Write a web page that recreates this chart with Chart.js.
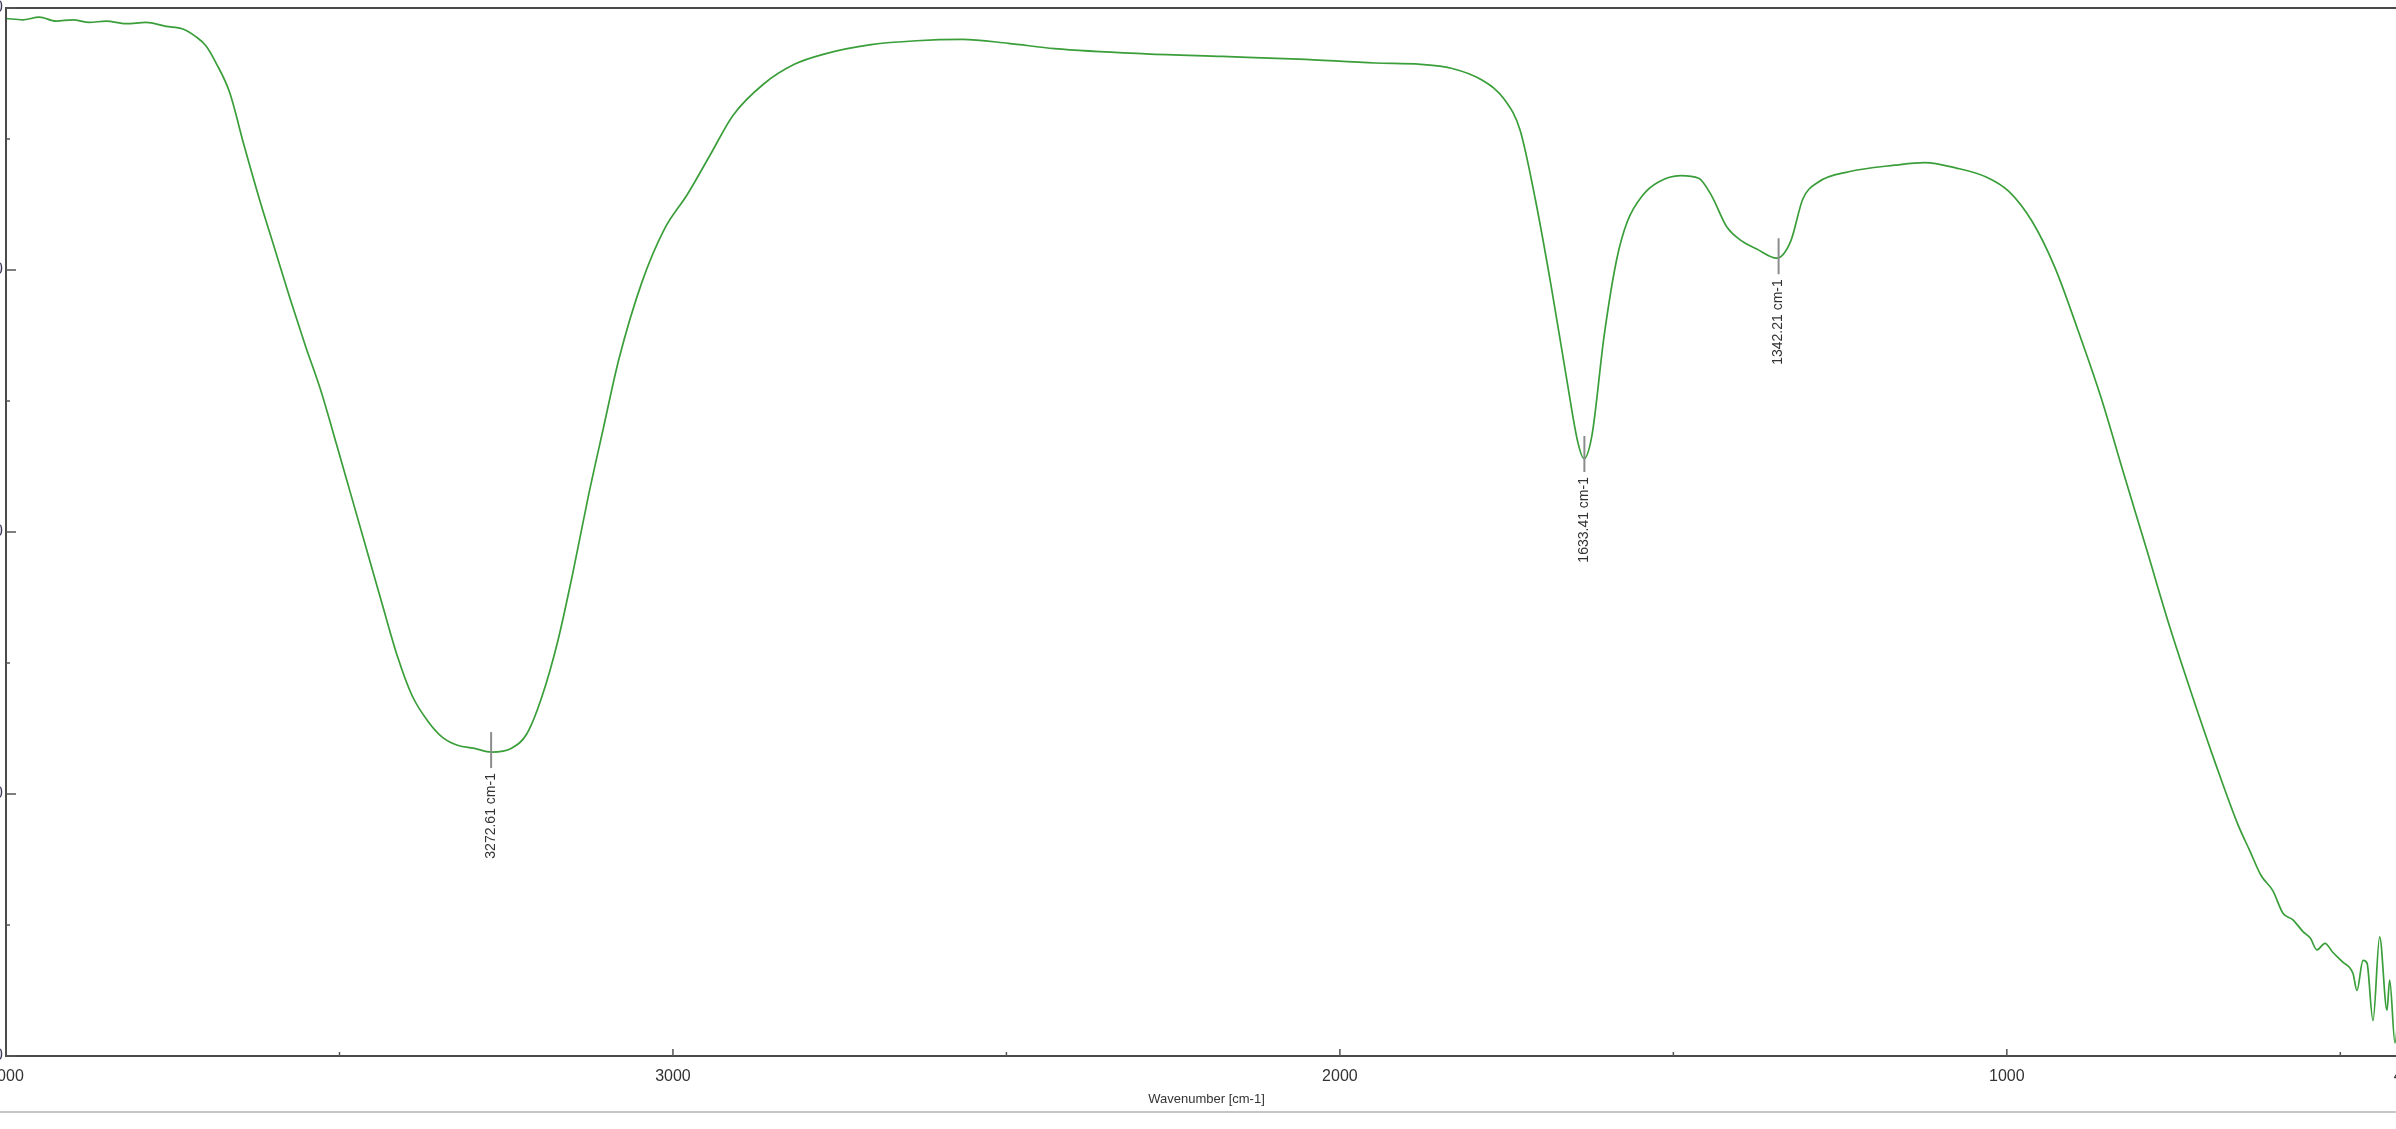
<!DOCTYPE html>
<html>
<head>
<meta charset="utf-8">
<title>IR spectrum</title>
<script src="https://cdn.jsdelivr.net/npm/chart.js@4.4.1/dist/chart.umd.min.js"></script>
<style>
  html, body { margin: 0; padding: 0; background: #fff; overflow: hidden; }
  body { width: 2396px; height: 1129px; position: relative; }
  #spectrum-wrap { position: absolute; left: -44px; top: 0; width: 2500px; height: 1129px; }
</style>
</head>
<body>
<div id="spectrum-wrap"><canvas id="spectrum-chart" width="2500" height="1129"></canvas></div>
<script>
// values (wavenumber in cm-1, transmittance in %)
var wavenumbers = [
  4000, 3975, 3950, 3925, 3900, 3875, 3850, 3820, 3790, 3760, 3735, 3715, 3700, 3685, 3665,
  3643, 3620, 3597, 3574, 3551, 3528, 3505, 3482, 3459, 3436, 3413, 3391, 3368, 3345, 3322,
  3299, 3272, 3242, 3219, 3196, 3173, 3150, 3127, 3104, 3081, 3047, 3013, 2978, 2944, 2910,
  2864, 2818, 2772, 2703, 2635, 2566, 2497, 2428, 2291, 2176, 2062, 1947, 1879, 1833, 1787,
  1753, 1730, 1707, 1684, 1661, 1643, 1634, 1622, 1604, 1585, 1569, 1546, 1523, 1489, 1462,
  1443, 1420, 1397, 1375, 1345, 1324, 1306, 1283, 1237, 1168, 1123, 1077, 1031, 997, 962,
  928, 894, 859, 825, 790, 756, 722, 687, 653, 636, 619, 601, 586, 571, 556,
  545, 535, 523, 511, 497, 481, 475, 466, 460, 451, 441, 430, 426, 418, 410,
  400
];
var transmittance = [
  99.2, 99.1, 99.3, 99.0, 99.1, 98.9, 99.0, 98.8, 98.9, 98.6, 98.4, 97.8, 97.1, 95.8, 93.6,
  89.5, 85.4, 81.6, 77.8, 74.2, 70.8, 66.8, 62.7, 58.6, 54.5, 50.5, 47.5, 45.6, 44.3, 43.7,
  43.5, 43.2, 43.5, 44.6, 47.5, 51.6, 56.9, 62.7, 68.0, 73.2, 79.0, 83.1, 85.8, 88.8, 91.8,
  94.2, 95.7, 96.5, 97.2, 97.5, 97.6, 97.3, 96.9, 96.5, 96.3, 96.1, 95.8, 95.7, 95.4, 94.5,
  93.0, 90.7, 85.4, 79.0, 72.0, 66.8, 65.6, 67.4, 74.9, 80.8, 83.7, 85.7, 86.7, 87.2, 87.0,
  85.7, 83.3, 82.2, 81.6, 80.9, 82.2, 85.4, 86.7, 87.5, 88.0, 88.2, 87.8, 87.1, 86.0, 83.7,
  80.2, 75.5, 70.3, 64.5, 58.6, 52.8, 47.5, 42.3, 37.6, 35.7, 33.8, 32.6, 30.9, 30.4, 29.5,
  29.0, 28.1, 28.6, 27.9, 27.2, 26.3, 25.0, 27.3, 27.1, 22.7, 29.1, 23.5, 25.8, 21.0, 24.5,
  22.0
];
var xTickValues = [4000, 3000, 2000, 1000, 400];
var xMinorTicks = [3500, 2500, 1500, 500];
var yMinorTicks = [30, 50, 70, 90];
var peakWavenumbers = [3272.61, 1633.41, 1342.21];
var peakTransmittance = [43.2, 65.8, 80.9];
var peakLabels = ['3272.61 cm-1', '1633.41 cm-1', '1342.21 cm-1'];
var xAxisTitle = 'Wavenumber [cm-1]';

(function (window, document) {
  'use strict';

  var FONT = '"Liberation Sans", Arial, sans-serif';

  function buildPoints() {
    return wavenumbers.map(function (w, i) {
      return { x: w, y: transmittance[i] };
    });
  }

  // frame, inward tick marks, peak markers and the axis caption
  var spectrumDecor = {
    id: 'spectrumDecor',
    afterDatasetsDraw: function (chart) {
      var ctx = chart.ctx;
      var area = chart.chartArea;
      var xs = chart.scales.x;
      var ys = chart.scales.y;
      ctx.save();

      ctx.strokeStyle = '#4a4a4a';
      ctx.lineWidth = 2;
      ctx.strokeRect(area.left, area.top, area.right - area.left, area.bottom - area.top);

      ctx.lineWidth = 1.5;
      ctx.strokeStyle = '#555';
      xs.ticks.forEach(function (t) {
        var px = xs.getPixelForValue(t.value);
        ctx.beginPath();
        ctx.moveTo(px, area.bottom);
        ctx.lineTo(px, area.bottom - 7);
        ctx.stroke();
      });
      xMinorTicks.forEach(function (v) {
        var px = xs.getPixelForValue(v);
        ctx.beginPath();
        ctx.moveTo(px, area.bottom);
        ctx.lineTo(px, area.bottom - 4);
        ctx.stroke();
      });
      ys.ticks.forEach(function (t) {
        var py = ys.getPixelForValue(t.value);
        ctx.beginPath();
        ctx.moveTo(area.left, py);
        ctx.lineTo(area.left + 10, py);
        ctx.stroke();
      });
      yMinorTicks.forEach(function (v) {
        var py = ys.getPixelForValue(v);
        ctx.beginPath();
        ctx.moveTo(area.left, py);
        ctx.lineTo(area.left + 4, py);
        ctx.stroke();
      });

      // peak picks
      ctx.font = '14px ' + FONT;
      ctx.textAlign = 'right';
      ctx.textBaseline = 'middle';
      peakWavenumbers.forEach(function (w, i) {
        var px = xs.getPixelForValue(w);
        var py = ys.getPixelForValue(peakTransmittance[i]);
        ctx.strokeStyle = '#8c8c8c';
        ctx.lineWidth = 2;
        ctx.beginPath();
        ctx.moveTo(px, py - 20);
        ctx.lineTo(px, py + 16);
        ctx.stroke();
        ctx.save();
        ctx.translate(px, py + 21);
        ctx.rotate(-Math.PI / 2);
        ctx.fillStyle = '#333';
        ctx.fillText(peakLabels[i], 0, 0);
        ctx.restore();
      });

      ctx.fillStyle = '#333';
      ctx.textAlign = 'center';
      ctx.font = '13px ' + FONT;
      ctx.fillText(xAxisTitle, (area.left + area.right) / 2, 1099);

      ctx.fillStyle = '#c6c6c6';
      ctx.fillRect(0, 1111, chart.width, 2);
      ctx.restore();
    }
  };

  function render() {
    var canvas = document.getElementById('spectrum-chart');
    if (!canvas || typeof Chart === 'undefined') return;

    new Chart(canvas.getContext('2d'), {
      type: 'line',
      data: {
        datasets: [{
          label: 'Spectrum',
          data: buildPoints(),
          borderColor: '#3a9e3a',
          borderWidth: 1.7,
          pointRadius: 0,
          cubicInterpolationMode: 'monotone',
          fill: false
        }]
      },
      options: {
        responsive: false,
        animation: false,
        devicePixelRatio: 1,
        layout: { padding: { left: 0, right: 49, top: 8, bottom: 13 } },
        plugins: { legend: { display: false }, tooltip: { enabled: false } },
        scales: {
          x: {
            type: 'linear',
            reverse: true,
            min: 400,
            max: 4000,
            grid: { display: false, drawTicks: false },
            border: { display: false },
            afterBuildTicks: function (scale) {
              scale.ticks = xTickValues.map(function (v) { return { value: v }; });
            },
            ticks: {
              autoSkip: false,
              maxRotation: 0,
              padding: 11,
              color: '#333',
              font: { family: FONT, size: 16 },
              callback: function (value) { return String(value); }
            },
            afterFit: function (scale) {
              scale.height = 60;
              scale.paddingLeft = 0;
              scale.paddingRight = 0;
            }
          },
          y: {
            min: 20,
            max: 100,
            grid: { display: false, drawTicks: false },
            border: { display: false },
            ticks: {
              stepSize: 20,
              padding: 3,
              color: '#3d3a5c',
              font: { family: FONT, size: 16, lineHeight: 1 },
              callback: function (value) { return String(value); }
            },
            afterFit: function (scale) {
              scale.width = 50;
              scale.paddingTop = 0;
              scale.paddingBottom = 0;
            }
          }
        }
      },
      plugins: [spectrumDecor]
    });
  }

  render();
})(window, document);
</script>
</body>
</html>
